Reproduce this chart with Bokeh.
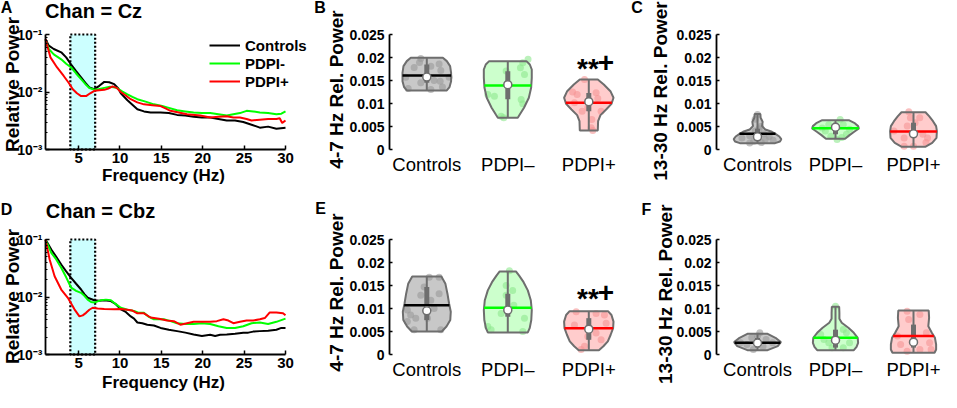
import numpy as np
from bokeh.plotting import figure
from bokeh.models import Range1d, FixedTicker, Label, Legend, LegendItem
from bokeh.layouts import row, column
from bokeh.embed import file_html
from bokeh.resources import INLINE

FONT = "Liberation Sans"

# ---------------- data ----------------
groups = ["Controls", "PDPI-", "PDPI+"]          # legend labels (spectra)
cats = ["Controls", "PDPI\u2013", "PDPI+"]        # violin category labels
band = [4, 7]                                     # theta band (Hz)
freq_ticks = [5, 10, 15, 20, 25, 30]
pow_ticks = [0.001, 0.01, 0.1]
pow_tick_labels = ["10\u207b\u00b3", "10\u207b\u00b2", "10\u207b\u00b9"]
rel_ticks = [0, 0.005, 0.01, 0.015, 0.02, 0.025]
rel_tick_labels = ["0", "0.005", "0.01", "0.015", "0.02", "0.025"]

# Chan = Cz spectra
cz_ctrl_f = [1, 1.4, 2.0, 2.9, 3.5, 4.1, 4.7, 5.3, 5.8, 6.3, 6.9, 7.5, 8.1, 8.7, 9.3, 9.8, 10.1, 10.9, 11.5, 12.1,
             12.9, 13.7, 14.9, 15.9, 16.9, 17.9, 18.9, 19.9, 20.9, 21.9, 22.9, 23.9, 24.9, 25.9, 26.9, 27.9, 28.9, 30]
cz_ctrl_p = [0.083, 0.064, 0.056, 0.049, 0.040, 0.030, 0.023, 0.018, 0.0145, 0.012, 0.0112, 0.0128, 0.015, 0.0148,
             0.0137, 0.0115, 0.0095, 0.0072, 0.0060, 0.0050, 0.0046, 0.0044, 0.0044, 0.0043, 0.0040, 0.0039, 0.0037,
             0.0036, 0.0036, 0.0034, 0.0032, 0.0032, 0.0030, 0.0027, 0.0024, 0.0025, 0.0023, 0.0024]
cz_neg_f = [1, 1.4, 2.0, 2.9, 3.5, 4.1, 4.7, 5.3, 5.8, 6.3, 6.9, 7.5, 8.1, 8.8, 9.6, 10.3, 10.9, 11.5, 12.1, 13.1,
            14.1, 15.1, 15.7, 16.9, 17.9, 18.9, 19.9, 20.9, 21.9, 22.9, 23.7, 24.5, 25.3, 26.1, 26.9, 27.9, 28.9,
            29.5, 30]
cz_neg_p = [0.080, 0.056, 0.045, 0.037, 0.031, 0.0267, 0.021, 0.0167, 0.0138, 0.0117, 0.0110, 0.0113, 0.0118,
            0.0123, 0.0118, 0.0102, 0.0091, 0.0082, 0.0075, 0.0068, 0.0061, 0.0057, 0.0054, 0.0048, 0.0046, 0.0044,
            0.0043, 0.0043, 0.0041, 0.0039, 0.0041, 0.0043, 0.0047, 0.0046, 0.0044, 0.0043, 0.0041, 0.0042, 0.0046]
cz_pos_f = [1, 1.6, 2.4, 3.2, 3.8, 4.3, 4.8, 5.3, 5.9, 6.4, 6.9, 7.5, 8.1, 8.6, 9.1, 9.6, 10.1, 10.7, 11.3, 12.1,
            12.9, 13.9, 14.9, 15.5, 16.1, 17.1, 18.1, 19.7, 20.9, 21.9, 22.9, 23.7, 24.5, 25.3, 25.9, 26.9, 27.9,
            28.9, 29.3, 29.6, 30]
cz_pos_p = [0.083, 0.040, 0.0267, 0.019, 0.0145, 0.0112, 0.0095, 0.0085, 0.0085, 0.0095, 0.0105, 0.0107, 0.0109,
            0.0115, 0.0125, 0.0118, 0.0100, 0.0087, 0.0075, 0.0066, 0.0061, 0.0059, 0.0057, 0.0052, 0.0047, 0.0044,
            0.0041, 0.0039, 0.0036, 0.0037, 0.0038, 0.0036, 0.0036, 0.0034, 0.0032, 0.0033, 0.0034, 0.0034, 0.0035,
            0.0029, 0.0032]

# Chan = Cbz spectra
cbz_ctrl_f = [1, 1.7, 2.3, 2.9, 3.5, 4.1, 4.7, 5.3, 5.7, 6.1, 6.9, 7.5, 8.1, 8.9, 9.5, 10.1, 10.7, 11.3, 11.7, 12.1,
              12.7, 13.3, 14.1, 14.9, 15.9, 16.9, 17.9, 18.9, 19.9, 20.9, 21.5, 22.1, 22.9, 23.9, 24.9, 25.5, 26.1,
              26.9, 27.9, 28.9, 29.5, 30]
cbz_ctrl_p = [0.10, 0.067, 0.050, 0.0367, 0.028, 0.0216, 0.0170, 0.0135, 0.0112, 0.0097, 0.0088, 0.0086, 0.0088,
              0.0085, 0.0075, 0.0061, 0.0055, 0.0046, 0.0042, 0.0036, 0.0035, 0.0033, 0.0032, 0.0029, 0.0027, 0.00255,
              0.0024, 0.00223, 0.0021, 0.0022, 0.0021, 0.0022, 0.00223, 0.0023, 0.0024, 0.0024, 0.0025, 0.00255,
              0.0026, 0.0027, 0.0029, 0.0029]
cbz_neg_f = [1, 1.7, 2.3, 2.9, 3.5, 4.1, 4.7, 5.3, 5.7, 6.1, 6.5, 6.9, 7.3, 7.7, 8.3, 8.9, 9.5, 10.1, 10.9, 11.7,
             12.3, 12.9, 13.5, 14.1, 15.3, 16.1, 16.9, 17.9, 18.9, 19.9, 20.9, 21.9, 22.9, 23.9, 24.9, 25.9, 26.9,
             27.9, 28.9, 30]
cbz_neg_p = [0.10, 0.0586, 0.045, 0.0323, 0.022, 0.0145, 0.0128, 0.0118, 0.0105, 0.0090, 0.0082, 0.0080, 0.0084,
             0.0088, 0.0090, 0.0088, 0.0075, 0.0065, 0.0060, 0.0057, 0.0053, 0.0053, 0.0045, 0.0041, 0.0041, 0.0038,
             0.0035, 0.0034, 0.0034, 0.0035, 0.0034, 0.0031, 0.0029, 0.0029, 0.0031, 0.0035, 0.0036, 0.0034, 0.0037,
             0.0042]
cbz_pos_f = [1, 1.5, 2.1, 2.9, 3.7, 4.5, 5.1, 5.5, 5.9, 6.3, 6.7, 7.3, 8.1, 9.3, 10.1, 10.9, 11.5, 12.1, 12.9, 13.7,
             14.7, 15.7, 16.5, 17.3, 18.1, 18.9, 19.9, 20.9, 21.7, 22.5, 23.1, 23.7, 24.5, 25.3, 26.1, 26.9, 27.5,
             28.1, 28.9, 29.7, 30]
cbz_pos_p = [0.10, 0.045, 0.023, 0.0135, 0.0097, 0.0061, 0.0046, 0.0048, 0.0053, 0.0060, 0.0065, 0.0063, 0.0062,
             0.0061, 0.0062, 0.0060, 0.0058, 0.0052, 0.0052, 0.0044, 0.0042, 0.0039, 0.0038, 0.0033, 0.0035, 0.0037,
             0.0037, 0.0037, 0.0038, 0.0041, 0.0039, 0.0035, 0.0037, 0.0039, 0.0039, 0.0041, 0.0043, 0.0054, 0.0054,
             0.0052, 0.0048]

# ---- violin panels: levels (value), density half-widths, points, jitter, mean, median, quartiles ----
# B: 4-7 Hz, Cz
b_levels = [[0.01283, 0.01355, 0.01486, 0.01667, 0.01812, 0.01921, 0.01993],
            [0.00689, 0.00748, 0.00907, 0.01124, 0.01341, 0.01558, 0.01739, 0.01848, 0.01921],
            [0.00413, 0.00617, 0.00748, 0.0087, 0.00993, 0.01124, 0.01268, 0.01413, 0.01522]]
b_dens = [[0.247, 0.28, 0.30, 0.30, 0.288, 0.247, 0.198],
          [0.123, 0.144, 0.20, 0.26, 0.288, 0.296, 0.296, 0.272, 0.23],
          [0.111, 0.115, 0.144, 0.214, 0.28, 0.305, 0.267, 0.185, 0.111]]
b_pts = [[0.0198, 0.0189, 0.0181, 0.0186, 0.0172, 0.0150, 0.01486, 0.01356, 0.01327, 0.0145, 0.01573, 0.01573,
          0.0178, 0.01305],
         [0.0196, 0.01884, 0.01776, 0.01704, 0.01631, 0.01196, 0.0116, 0.01088, 0.00993, 0.00725, 0.0069],
         [0.01522, 0.01196, 0.01233, 0.01109, 0.01015, 0.00906, 0.00834, 0.00834, 0.00653, 0.00472, 0.00414, 0.0125]]
b_jit = [[-0.074, -0.09, 0.05, 0.152, 0.173, 0.09, 0.165, 0.193, -0.23, -0.074, 0.276, -0.26, -0.156, 0.05],
         [0.25, 0.185, 0.156, -0.02, 0.206, -0.247, -0.165, 0.165, 0.185, -0.082, -0.05],
         [-0.053, -0.144, 0.09, 0.111, -0.177, -0.012, -0.082, 0.152, 0.037, 0.029, 0.049, -0.2]]
b_mean = [0.0161, 0.0139, 0.01015]
b_median = [0.01574, 0.0141, 0.0104]
b_q1 = [0.0145, 0.0109, 0.0083]
b_q3 = [0.0185, 0.0170, 0.0123]
b_sig_y = 0.0190

# C: 13-30 Hz, Cz
c_levels = [[0.00138, 0.00175, 0.00225, 0.00283, 0.00341, 0.00385, 0.00436, 0.00508, 0.00602, 0.00689, 0.00773],
            [0.00233, 0.00312, 0.00385, 0.00457, 0.00508, 0.0058, 0.00638],
            [0.00058, 0.00146, 0.00254, 0.00399, 0.00508, 0.00616, 0.00725, 0.0081]]
c_dens = [[0.226, 0.288, 0.305, 0.28, 0.23, 0.185, 0.10, 0.058, 0.066, 0.04, 0.037],
          [0.123, 0.18, 0.24, 0.30, 0.29, 0.24, 0.17],
          [0.15, 0.24, 0.295, 0.30, 0.29, 0.25, 0.20, 0.154]]
c_pts = [[0.0076, 0.0066, 0.0050, 0.0040, 0.0030, 0.0028, 0.0025, 0.0022, 0.0020, 0.0018, 0.0015, 0.0014, 0.0034,
          0.0045],
         [0.0065, 0.0054, 0.0054, 0.0040, 0.0033, 0.0029, 0.0026, 0.0022, 0.0047, 0.0044],
         [0.0082, 0.0069, 0.0051, 0.0058, 0.0040, 0.0033, 0.0025, 0.0025, 0.0007, 0.0007, 0.0015, 0.0069]]
c_jit = [[0.0, -0.03, 0.04, -0.03, -0.1, 0.15, -0.2, 0.1, 0.2, -0.05, 0.05, -0.1, 0.08, 0.02],
         [0.06, -0.087, 0.1, -0.13, 0.14, -0.06, 0.08, 0.02, -0.17, 0.18],
         [-0.06, -0.04, -0.08, 0.02, -0.25, 0.12, -0.12, 0.18, -0.12, 0.0, 0.16, 0.08]]
c_mean = [0.0034, 0.0046, 0.00392]
c_median = [0.00276, 0.00486, 0.00341]
c_q1 = [0.0022, 0.0033, 0.0025]
c_q3 = [0.0045, 0.0058, 0.0058]

# E: 4-7 Hz, Cbz
e_levels = [[0.00501, 0.00608, 0.0075, 0.00929, 0.01108, 0.01322, 0.01536, 0.01694],
            [0.00479, 0.00572, 0.0075, 0.00965, 0.01179, 0.01394, 0.01572, 0.01714, 0.01807],
            [0.00094, 0.00179, 0.00286, 0.00429, 0.00572, 0.00715, 0.00858, 0.00942]]
e_dens = [[0.185, 0.243, 0.29, 0.296, 0.275, 0.255, 0.23, 0.18],
          [0.247, 0.27, 0.29, 0.296, 0.284, 0.247, 0.195, 0.14, 0.10],
          [0.125, 0.18, 0.235, 0.27, 0.30, 0.305, 0.28, 0.237]]
e_pts = [[0.01679, 0.01679, 0.01465, 0.01322, 0.01286, 0.00965, 0.00786, 0.01001, 0.00858, 0.00786, 0.00536,
          0.00536, 0.00715, 0.0118],
         [0.01822, 0.0150, 0.01286, 0.01072, 0.00608, 0.00536, 0.00786, 0.0050, 0.00894, 0.01394],
         [0.0093, 0.00894, 0.00679, 0.00394, 0.00322, 0.00179, 0.00108, 0.00465, 0.00643, 0.00858]]
e_jit = [[0.03, 0.152, -0.033, 0.152, -0.074, -0.24, -0.136, 0.09, -0.2, 0.008, 0.173, -0.156, -0.24, 0.05],
         [0.02, -0.02, -0.02, 0.074, -0.247, -0.206, 0.206, 0.185, -0.082, 0.06],
         [-0.156, 0.09, 0.214, -0.012, 0.152, -0.053, -0.095, 0.09, -0.177, 0.193]]
e_mean = [0.01072, 0.01015, 0.00572]
e_median = [0.0095, 0.00965, 0.0055]
e_q1 = [0.0075, 0.0082, 0.0032]
e_q3 = [0.01465, 0.0132, 0.0079]
e_sig_y = 0.0135

# F: 13-30 Hz, Cbz
f_levels = [[0.00095, 0.00182, 0.00269, 0.00363, 0.0045],
            [0.00095, 0.00167, 0.00254, 0.00363, 0.00472, 0.0058, 0.00689, 0.00775, 0.00906, 0.01036],
            [0.00037, 0.00109, 0.00218, 0.00363, 0.00471, 0.00616, 0.00797, 0.00957]]
f_dens = [[0.13, 0.26, 0.30, 0.23, 0.13],
          [0.235, 0.27, 0.29, 0.285, 0.235, 0.165, 0.08, 0.05, 0.05, 0.047],
          [0.27, 0.29, 0.29, 0.275, 0.235, 0.19, 0.20, 0.195]]
f_pts = [[0.00472, 0.00363, 0.00327, 0.00218, 0.00182, 0.0011, 0.00254, 0.00254, 0.0040],
         [0.0105, 0.00544, 0.00472, 0.00327, 0.00254, 0.00146, 0.00254, 0.00146, 0.00436],
         [0.00942, 0.00761, 0.0087, 0.00472, 0.00109, 0.00073, 0.00109, 0.00254, 0.00218, 0.0040]]
f_jit = [[0.03, -0.074, 0.11, -0.136, 0.07, -0.053, -0.218, 0.193, 0.0],
         [0.0, 0.1, 0.14, -0.148, -0.086, 0.1, 0.18, -0.045, -0.19],
         [-0.082, -0.062, 0.082, 0.165, 0.226, -0.082, 0.082, 0.206, -0.165, -0.206]]
f_mean = [0.00254, 0.00363, 0.0040]
f_median = [0.0025, 0.00312, 0.00268]
f_q1 = [0.0015, 0.0015, 0.0015]
f_q3 = [0.0036, 0.0054, 0.0065]

# ---------------- styles / layout constants (page pixels) ----------------
line_cols = ["#000000", "#00ff00", "#ff0000"]
fill_cols = ["#c8c8c8", "#ccffcc", "#ffcccc"]
pt_cols = ["#9a9a9a", "#8ee88e", "#f59494"]
OUTLINE = "#6e6e6e"
ROT = np.pi / 2
YLAB = "19px"

ROW_Y = [8, 205]          # canvas top of each row
ROW_H = [197, 195]        # canvas heights
FR_TOP = [42, 247]        # plot-area top of each row
FR_BOT = [157, 362]       # plot-area bottom of each row
COL_X = [8, 320, 637]     # canvas left of each column
COL_W = [312, 317, 312]


def style(p):
    p.outline_line_color = None
    p.xgrid.grid_line_color = None
    p.ygrid.grid_line_color = None
    p.background_fill_color = "white"
    p.border_fill_color = "white"
    for ax in p.axis:
        ax.axis_line_color = "black"
        ax.axis_line_width = 1.8
        ax.major_tick_in = 4
        ax.major_tick_out = 0
        ax.major_tick_line_width = 1.5
        ax.major_tick_line_color = "black"
        ax.minor_tick_in = 0
        ax.minor_tick_out = 0
        ax.major_label_text_font = FONT
        ax.major_label_text_font_style = "bold"
        ax.major_label_text_font_size = "14px"
        ax.major_label_text_color = "black"


def new_fig(r, c, x_range, y_range, y_type="linear"):
    p = figure(width=COL_W[c], height=ROW_H[r], x_range=x_range, y_range=y_range, y_axis_type=y_type,
               output_backend="svg", toolbar_location=None, min_border=0,
               min_border_left=0, min_border_right=0, min_border_top=0, min_border_bottom=0)
    p.tags = [r, c]
    style(p)
    return p


def lab(p, X, Y, text, size, angle=0.0, bold=True):
    r, c = p.tags
    p.add_layout(Label(x=X - COL_X[c], y=ROW_Y[r] + ROW_H[r] - Y, x_units="screen", y_units="screen",
                       text=text, text_font=FONT, text_font_size=size,
                       text_font_style="bold" if bold else "normal", text_color="black",
                       text_align="center", text_baseline="middle", angle=angle))


def spec_fig(r, series, legend=False):
    c = 0
    x_px0, x_px1 = 53, 293                       # plot-area edges for 1 Hz and 30 Hz
    sx = (x_px1 - x_px0) / 29.0
    x0 = 1 - (x_px0 - COL_X[c]) / sx
    x1 = x0 + COL_W[c] / sx
    dec = (FR_BOT[r] - FR_TOP[r]) / 2.0          # pixels per decade
    ytop = 10 ** (-1 + (FR_TOP[r] - ROW_Y[r]) / dec)
    ybot = 10 ** (-1 - (ROW_Y[r] + ROW_H[r] - FR_TOP[r]) / dec)
    p = new_fig(r, c, Range1d(x0, x1), Range1d(ybot, ytop), "log")
    p.xaxis.fixed_location = pow_ticks[0]
    p.xaxis.bounds = (1, 30)
    p.xaxis.ticker = FixedTicker(ticks=freq_ticks)
    p.xaxis.major_label_standoff = 3
    p.xaxis.major_label_text_font_size = "15px"
    p.yaxis.fixed_location = 1
    p.yaxis.bounds = (pow_ticks[0], pow_ticks[-1])
    p.yaxis.ticker = FixedTicker(ticks=pow_ticks,
                                 minor_ticks=[m * t for t in pow_ticks[:-1] for m in range(2, 10)])
    p.yaxis.major_label_overrides = dict(zip(pow_ticks, pow_tick_labels))
    p.yaxis.major_label_standoff = 3
    p.yaxis.major_label_text_font_size = "14px"
    p.yaxis.minor_tick_in = 2
    p.yaxis.minor_tick_line_color = "black"
    p.quad(left=[band[0]], right=[band[1]], bottom=[pow_ticks[0]], top=[pow_ticks[-1]], fill_color="#ccffff",
           line_color="black", line_dash="2 2", line_width=2.2)
    rends = []
    for i, (f, pw) in enumerate(series):
        rends.append(p.line(f, pw, line_color=line_cols[i], line_width=2))
    if legend:
        lg = Legend(items=[LegendItem(label=g, renderers=[rr]) for g, rr in zip(groups, rends)],
                    location=(217 - COL_X[c], ROW_Y[r] + ROW_H[r] - 98))
        lg.label_text_font = FONT
        lg.label_text_font_style = "bold"
        lg.label_text_font_size = "15px"
        lg.label_text_color = "black"
        lg.glyph_width = 31
        lg.glyph_height = 18
        lg.label_height = 18
        lg.label_standoff = 5
        lg.spacing = 0
        lg.padding = 0
        lg.margin = 0
        lg.border_line_color = None
        lg.background_fill_alpha = 0
        p.add_layout(lg)
    return p


def violin_fig(r, c, x_ctrl_px, sx, axis_px, levels, dens, pts, jit, means, medians, q1, q3):
    sy = (FR_BOT[r] - FR_TOP[r]) / rel_ticks[-1]
    x0 = 1 - (x_ctrl_px - COL_X[c]) / sx
    x1 = x0 + COL_W[c] / sx
    y0 = -(ROW_Y[r] + ROW_H[r] - FR_BOT[r]) / sy
    y1 = (FR_BOT[r] - ROW_Y[r]) / sy
    p = new_fig(r, c, Range1d(x0, x1), Range1d(y0, y1))
    p.yaxis.fixed_location = 1 - (x_ctrl_px - axis_px) / sx
    p.yaxis.bounds = (rel_ticks[0], rel_ticks[-1])
    p.yaxis.ticker = FixedTicker(ticks=rel_ticks)
    p.yaxis.major_label_overrides = dict(zip(rel_ticks, rel_tick_labels))
    p.yaxis.major_tick_in = 3
    p.yaxis.major_label_standoff = 5
    p.xaxis.fixed_location = rel_ticks[0]
    p.xaxis.ticker = FixedTicker(ticks=[1, 2, 3])
    p.xaxis.major_label_overrides = {i + 1: cname for i, cname in enumerate(cats)}
    p.xaxis.axis_line_color = None
    p.xaxis.major_tick_line_color = None
    p.xaxis.major_label_text_font_style = "normal"
    p.xaxis.major_label_text_font_size = "18.5px"
    p.xaxis.major_label_standoff = 4
    for i in range(3):
        xc = i + 1
        lv = np.array(levels[i])
        dn = np.array(dens[i])
        xs = np.concatenate([xc + dn, (xc - dn)[::-1]])
        ys = np.concatenate([lv, lv[::-1]])
        p.patch(xs, ys, fill_color=fill_cols[i], line_color=None)
        p.scatter(xc + np.array(jit[i]), pts[i], size=7, fill_color=pt_cols[i], fill_alpha=0.6, line_color=None)
        p.patch(xs, ys, fill_color=None, line_color=OUTLINE, line_width=2)
        p.segment(x0=[xc], y0=[lv[0]], x1=[xc], y1=[lv[-1]], line_color=OUTLINE, line_width=2)
        p.segment(x0=[xc], y0=[q1[i]], x1=[xc], y1=[q3[i]], line_color=OUTLINE, line_width=5)
        w = float(np.interp(means[i], lv, dn))
        p.segment(x0=[xc - w], y0=[means[i]], x1=[xc + w], y1=[means[i]], line_color=line_cols[i],
                  line_width=2.5)
        p.scatter([xc], [medians[i]], size=8, fill_color="white", line_color=OUTLINE, line_width=1.5)
    return p


def sig(p, y):
    p.add_layout(Label(x=3, y=y, text="**", text_font=FONT, text_font_size="28px", text_font_style="bold",
                       text_color="black", text_align="right", text_baseline="middle", x_offset=10, y_offset=-6))
    p.add_layout(Label(x=3, y=y, text="+", text_font=FONT, text_font_size="28px", text_font_style="bold",
                       text_color="black", text_align="left", text_baseline="middle", x_offset=9))


# Row 1
pA = spec_fig(0, [(cz_ctrl_f, cz_ctrl_p), (cz_neg_f, cz_neg_p), (cz_pos_f, cz_pos_p)], legend=True)
lab(pA, 14, 15, "A", "16px")
lab(pA, 101, 18, "Chan = Cz", "20px")
lab(pA, 19.5, 92, "Relative Power", YLAB, angle=ROT)
lab(pA, 171, 183, "Frequency (Hz)", "17px")

pB = violin_fig(0, 1, 434.3, 81.0, 397, b_levels, b_dens, b_pts, b_jit, b_mean, b_median, b_q1, b_q3)
lab(pB, 327.5, 15, "B", "16px")
lab(pB, 344, 97, "4-7 Hz Rel. Power", YLAB, angle=ROT)
sig(pB, b_sig_y)

pC = violin_fig(0, 2, 765, 78.0, 724, c_levels, c_dens, c_pts, c_jit, c_mean, c_median, c_q1, c_q3)
lab(pC, 644.5, 15, "C", "16px")
lab(pC, 668, 98.5, "13-30 Hz Rel. Power", YLAB, angle=ROT)

# Row 2
pD = spec_fig(1, [(cbz_ctrl_f, cbz_ctrl_p), (cbz_neg_f, cbz_neg_p), (cbz_pos_f, cbz_pos_p)])
lab(pD, 14, 217, "D", "16px")
lab(pD, 108, 218, "Chan = Cbz", "20px")
lab(pD, 19.5, 304, "Relative Power", YLAB, angle=ROT)
lab(pD, 171, 390, "Frequency (Hz)", "17px")

pE = violin_fig(1, 1, 434.3, 81.0, 397, e_levels, e_dens, e_pts, e_jit, e_mean, e_median, e_q1, e_q3)
lab(pE, 328, 216, "E", "16px")
lab(pE, 344, 300, "4-7 Hz Rel. Power", YLAB, angle=ROT)
sig(pE, e_sig_y)

pF = violin_fig(1, 2, 765, 78.0, 724, f_levels, f_dens, f_pts, f_jit, f_mean, f_median, f_q1, f_q3)
lab(pF, 654, 217, "F", "16px")
lab(pF, 673, 301.7, "13-30 Hz Rel. Power", YLAB, angle=ROT)

layout = column(row(pA, pB, pC), row(pD, pE, pF))

with open("out.html", "w") as fh:
    fh.write(file_html(layout, INLINE))
